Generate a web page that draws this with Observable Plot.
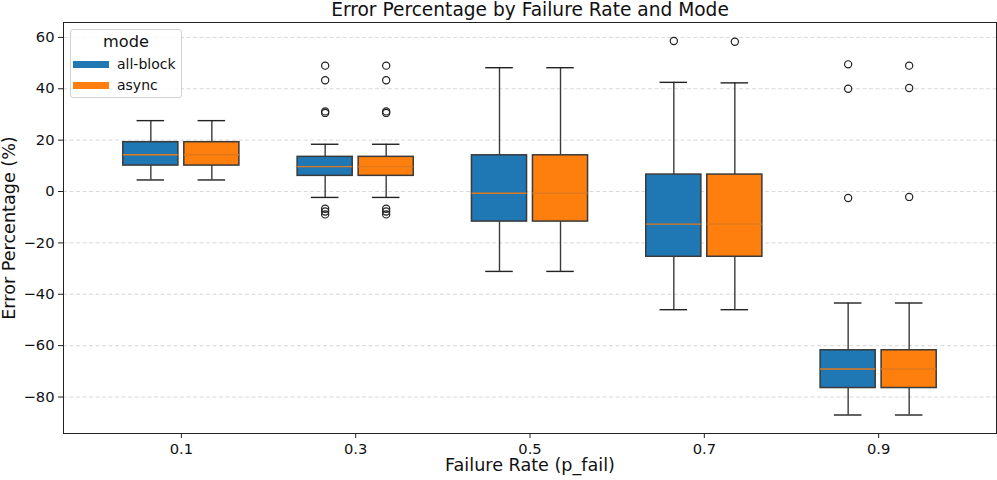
<!DOCTYPE html>
<html>
<head>
<meta charset="utf-8">
<script src="https://cdn.jsdelivr.net/npm/d3@7"></script>
<script src="https://cdn.jsdelivr.net/npm/@observablehq/plot@0.6"></script>
<style>
  html, body { margin: 0; padding: 0; background: #fff; }
  #wrap { position: relative; width: 997px; height: 480px; font-family: "DejaVu Sans", sans-serif; }
  #legend { position: absolute; left: 70px; top: 29px; width: 110px; height: 67px;
            border: 1px solid #d0d0d0; border-radius: 3px; background: rgba(255,255,255,0.8); }
  #legend .ttl { position: absolute; left: 0; width: 110px; top: 4px; text-align: center; font-size: 16.2px; line-height: 1; color: #111; }
  #legend .sw { position: absolute; left: 2px; width: 36px; height: 7px; }
  #legend .lb { position: absolute; left: 46px; font-size: 14px; line-height: 1; color: #111; }
</style>
</head>
<body>
<div id="wrap"></div>
<script>
// ---- data ----
const rates = ["0.1", "0.3", "0.5", "0.7", "0.9"];
const modes = ["all-block", "async"];
const modeColors = ["#1f77b4", "#ff7f0e"];

const allBlockLow    = [4.5, -2.3, -31.1, -46.0, -87.0];
const allBlockQ1     = [10.1, 6.1, -11.7, -25.4, -76.5];
const allBlockMedian = [14.3, 9.7, -0.7, -12.7, -69.1];
const allBlockQ3     = [19.2, 13.5, 14.1, 6.6, -61.8];
const allBlockHigh   = [27.6, 18.4, 48.2, 42.5, -43.4];
const allBlockOutliers = [[], [49.0, 43.3, 31.2, 30.6, -6.7, -7.8, -8.9], [], [58.6], [49.5, 40.0, -2.5]];

const asyncLow    = [4.5, -2.3, -31.1, -46.0, -87.0];
const asyncQ1     = [10.1, 6.1, -11.7, -25.4, -76.5];
const asyncMedian = [14.3, 9.7, -0.7, -12.7, -69.1];
const asyncQ3     = [19.2, 13.5, 14.1, 6.6, -61.8];
const asyncHigh   = [27.6, 18.4, 48.2, 42.3, -43.4];
const asyncOutliers = [[], [49.0, 43.3, 31.2, 30.6, -6.7, -7.8, -8.9], [], [58.3], [49.0, 40.3, -2.1]];

const yTicks = [-80, -60, -40, -20, 0, 20, 40, 60];

// ---- build tables ----
const series = [
  {mode: "all-block", low: allBlockLow, q1: allBlockQ1, med: allBlockMedian, q3: allBlockQ3, high: allBlockHigh, out: allBlockOutliers, off: -0.175},
  {mode: "async", low: asyncLow, q1: asyncQ1, med: asyncMedian, q3: asyncQ3, high: asyncHigh, out: asyncOutliers, off: 0.175}
];
const boxes = [];
const outliers = [];
series.forEach(s => {
  rates.forEach((r, i) => {
    boxes.push({mode: s.mode, pos: i + s.off, low: s.low[i], q1: s.q1[i], med: s.med[i], q3: s.q3[i], high: s.high[i]});
    s.out[i].forEach(v => outliers.push({mode: s.mode, pos: i + s.off, v}));
  });
});
const hw = 0.158;   // half box width (x units)
const cw = 0.079;   // half cap width
const edge = "#3a3a3a";
const minus = v => String(v).replace("-", "\u2212");

const chart = Plot.plot({
  width: 997,
  height: 480,
  marginLeft: 63,
  marginRight: 1,
  marginTop: 22,
  marginBottom: 47,
  style: {fontFamily: "DejaVu Sans, sans-serif", color: "#111", background: "#fff"},
  x: {domain: [-0.676, 4.676]},
  y: {domain: [-94.2, 65.8]},
  color: {domain: modes, range: modeColors},
  marks: [
    Plot.gridY(yTicks, {stroke: "#cfcfcf", strokeOpacity: 1, strokeWidth: 0.8, strokeDasharray: "4,2.5"}),
    Plot.ruleX(boxes, {x: "pos", y1: "q3", y2: "high", stroke: edge, strokeWidth: 1.4}),
    Plot.ruleX(boxes, {x: "pos", y1: "q1", y2: "low", stroke: edge, strokeWidth: 1.4}),
    Plot.ruleY(boxes, {y: "high", x1: d => d.pos - cw, x2: d => d.pos + cw, stroke: "#222", strokeWidth: 1.4}),
    Plot.ruleY(boxes, {y: "low", x1: d => d.pos - cw, x2: d => d.pos + cw, stroke: "#222", strokeWidth: 1.4}),
    Plot.rect(boxes, {x1: d => d.pos - hw, x2: d => d.pos + hw, y1: "q1", y2: "q3", fill: "mode", stroke: edge, strokeWidth: 1.5}),
    Plot.ruleY(boxes, {y: "med", x1: d => d.pos - hw, x2: d => d.pos + hw, stroke: "#e0791c", strokeWidth: 1.4}),
    Plot.dot(outliers, {x: "pos", y: "v", r: 3.6, stroke: "#222", fill: "none", strokeWidth: 1.2}),
    Plot.frame({stroke: "#222", strokeWidth: 1}),
    Plot.axisX([0, 1, 2, 3, 4], {tickFormat: i => rates[i], tickSize: 5, tickPadding: 5, fontSize: 14.7, stroke: "#222", label: null}),
    Plot.axisY(yTicks, {tickFormat: minus, tickSize: 5, tickPadding: 4, fontSize: 14.7, stroke: "#222", label: null}),
    Plot.text(["Error Percentage by Failure Rate and Mode"], {frameAnchor: "top", dy: -12.3, lineAnchor: "middle", fontSize: 18.6, fill: "#111"}),
    Plot.text(["Failure Rate (p_fail)"], {frameAnchor: "bottom", dy: 32, lineAnchor: "middle", fontSize: 17.6, fill: "#111"}),
    Plot.text(["Error Percentage (%)"], {frameAnchor: "left", dx: -54, rotate: -90, lineAnchor: "middle", textAnchor: "middle", fontSize: 17.6, fill: "#111"})
  ]
});

const wrap = document.getElementById("wrap");
wrap.appendChild(chart);

// legend (inside the axes, upper left)
const lg = document.createElement("div");
lg.id = "legend";
const t = document.createElement("div");
t.className = "ttl"; t.textContent = "mode";
lg.appendChild(t);
modes.forEach((m, i) => {
  const sw = document.createElement("div");
  sw.className = "sw";
  sw.style.top = (31 + i * 21) + "px";
  sw.style.background = modeColors[i];
  lg.appendChild(sw);
  const lb = document.createElement("div");
  lb.className = "lb";
  lb.style.top = (27 + i * 21) + "px";
  lb.textContent = m;
  lg.appendChild(lb);
});
wrap.appendChild(lg);
</script>
</body>
</html>
